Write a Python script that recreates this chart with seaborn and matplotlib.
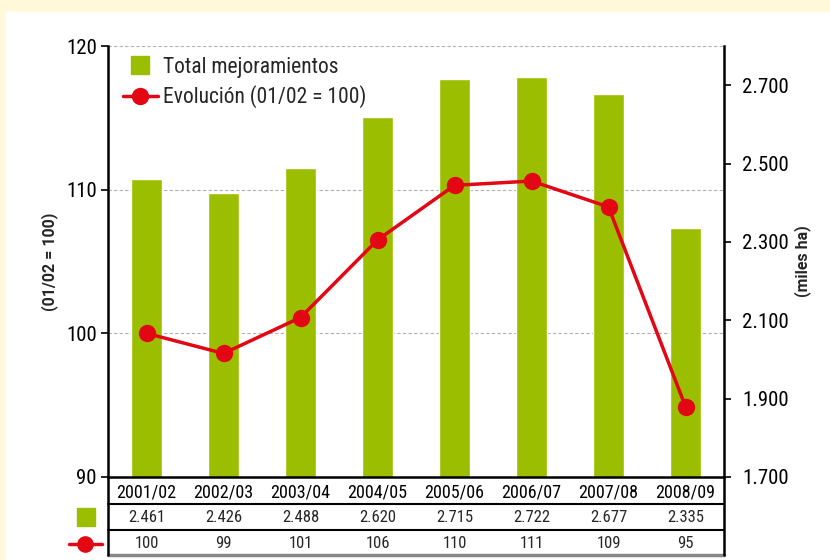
import matplotlib
matplotlib.use('Agg')
import matplotlib.pyplot as plt
import matplotlib.patches as mpatches
import seaborn as sns
import pandas as pd

# data
years = ['2001/02', '2002/03', '2003/04', '2004/05', '2005/06', '2006/07', '2007/08', '2008/09']
total_mejoramientos = [2461, 2426, 2488, 2620, 2715, 2722, 2677, 2335]   # miles ha
evolucion = [100, 98.6, 101.1, 106.5, 110.3, 110.6, 108.8, 94.9]         # 01/02 = 100
total_labels = ['2.461', '2.426', '2.488', '2.620', '2.715', '2.722', '2.677', '2.335']
evol_labels = ['100', '99', '101', '106', '110', '111', '109', '95']
left_ticks = [90, 100, 110, 120]
right_ticks = [1700, 1900, 2100, 2300, 2500, 2700]
right_tick_labels = ['1.700', '1.900', '2.100', '2.300', '2.500', '2.700']

GREEN = '#9BBF00'
RED = '#E30613'

sns.set_style('white')
plt.rcParams['font.family'] = ['Roboto Condensed', 'DejaVu Sans']

df = pd.DataFrame({'year': years, 'total': total_mejoramientos, 'evol': evolucion})

fig = plt.figure(figsize=(8.3, 5.6), dpi=100)
fig.patch.set_facecolor('#FFF9DA')
fig.patches.append(mpatches.Rectangle((6 / 830, 0), 1, 1 - 12 / 560,
                                      transform=fig.transFigure, color='white', zorder=-5))

ax = fig.add_axes([108 / 830, 1 - 477 / 560, 616 / 830, 431 / 560])
ax2 = ax.twinx()
ax.set_zorder(ax2.get_zorder() + 1)
ax.patch.set_visible(False)
ax2.patch.set_visible(False)

# bars on the right scale
sns.barplot(data=df, x='year', y='total', color=GREEN, width=0.39, saturation=1,
            ax=ax2, zorder=2)
ax2.set_ylim(1700, 2800)
ax2.set_yticks(right_ticks, right_tick_labels)
ax2.set_ylabel('(miles ha)', fontsize=11.5, fontweight='bold', family='Roboto',
               labelpad=4)

# dashed grid for the left scale, behind the bars
ax2.hlines(left_ticks[1:], 0, 1, transform=ax.get_yaxis_transform(),
           colors='#B0B0B0', linestyles=(0, (3, 2)), linewidth=0.8, zorder=1)

# line on the left scale
sns.lineplot(data=df, x='year', y='evol', color=RED, linewidth=2.5, marker='o',
             markersize=12.5, markeredgewidth=0, ax=ax, sort=False)
ax.set_ylim(90, 120)
ax.set_yticks(left_ticks)
ax.set_xlim(-0.5, 7.5)
ax.set_ylabel('(01/02 = 100)', fontsize=11.5, fontweight='bold', family='Roboto',
              labelpad=6)
ax.set_xlabel('')
ax2.set_xlabel('')

for a in (ax, ax2):
    for s in a.spines.values():
        s.set_visible(False)
ax.spines['left'].set_visible(True)
ax2.spines['right'].set_visible(True)
ax.spines['bottom'].set_visible(True)
for s in (ax.spines['left'], ax2.spines['right'], ax.spines['bottom']):
    s.set_linewidth(1.8)
    s.set_color('black')

ax.tick_params(axis='y', direction='out', length=5, width=1.2, labelsize=15, pad=3,
               left=True, colors='black')
ax2.tick_params(axis='y', direction='out', length=5, width=1.2, labelsize=15, pad=8,
                right=True, colors='black')
ax.set_xticks(range(len(years)), years)
ax.tick_params(axis='x', length=0, labelsize=13, pad=5, colors='black')
ax2.tick_params(axis='x', length=0, labelbottom=False)

# data table under the chart
xt = ax.get_xaxis_transform()
for i in range(len(years)):
    ax.text(i, -0.093, total_labels[i], transform=xt, ha='center', va='center', fontsize=12)
    ax.text(i, -0.155, evol_labels[i], transform=xt, ha='center', va='center', fontsize=12)

ax.plot([0, 1], [-0.063, -0.063], transform=ax.transAxes, color='black', lw=1.5, clip_on=False)
ax.plot([0, 1], [-0.123, -0.123], transform=ax.transAxes, color='black', lw=1.5, clip_on=False)
ax.plot([0, 1], [-0.18, -0.18], transform=ax.transAxes, color='#888888', lw=2.5, clip_on=False)
ax.plot([0, 0], [0, -0.18], transform=ax.transAxes, color='black', lw=1.8, clip_on=False)
ax.plot([1, 1], [0, -0.18], transform=ax.transAxes, color='black', lw=1.8, clip_on=False)

# row icons
ax.plot([-0.036], [-0.093], transform=ax.transAxes, marker='s', markersize=13,
        color=GREEN, clip_on=False)
ax.plot([-0.064, -0.01], [-0.155, -0.155], transform=ax.transAxes, color=RED, lw=2.5,
        clip_on=False)
ax.plot([-0.037], [-0.155], transform=ax.transAxes, marker='o', markersize=12,
        markeredgewidth=0, color=RED, clip_on=False)

# legend
handles = [
    plt.Line2D([], [], marker='s', linestyle='none', markersize=13, color=GREEN),
    plt.Line2D([], [], marker='o', color=RED, lw=2.5, markersize=12.5, markeredgewidth=0),
]
ax.legend(handles, ['Total mejoramientos', 'Evolución (01/02 = 100)'],
          loc='upper left', frameon=False, fontsize=15.5, handlelength=1.6,
          borderaxespad=0.3, labelspacing=0.35, handletextpad=0.25,
          bbox_to_anchor=(0.0, 1.01))

fig.savefig('out.png', dpi=100, facecolor=fig.get_facecolor())
